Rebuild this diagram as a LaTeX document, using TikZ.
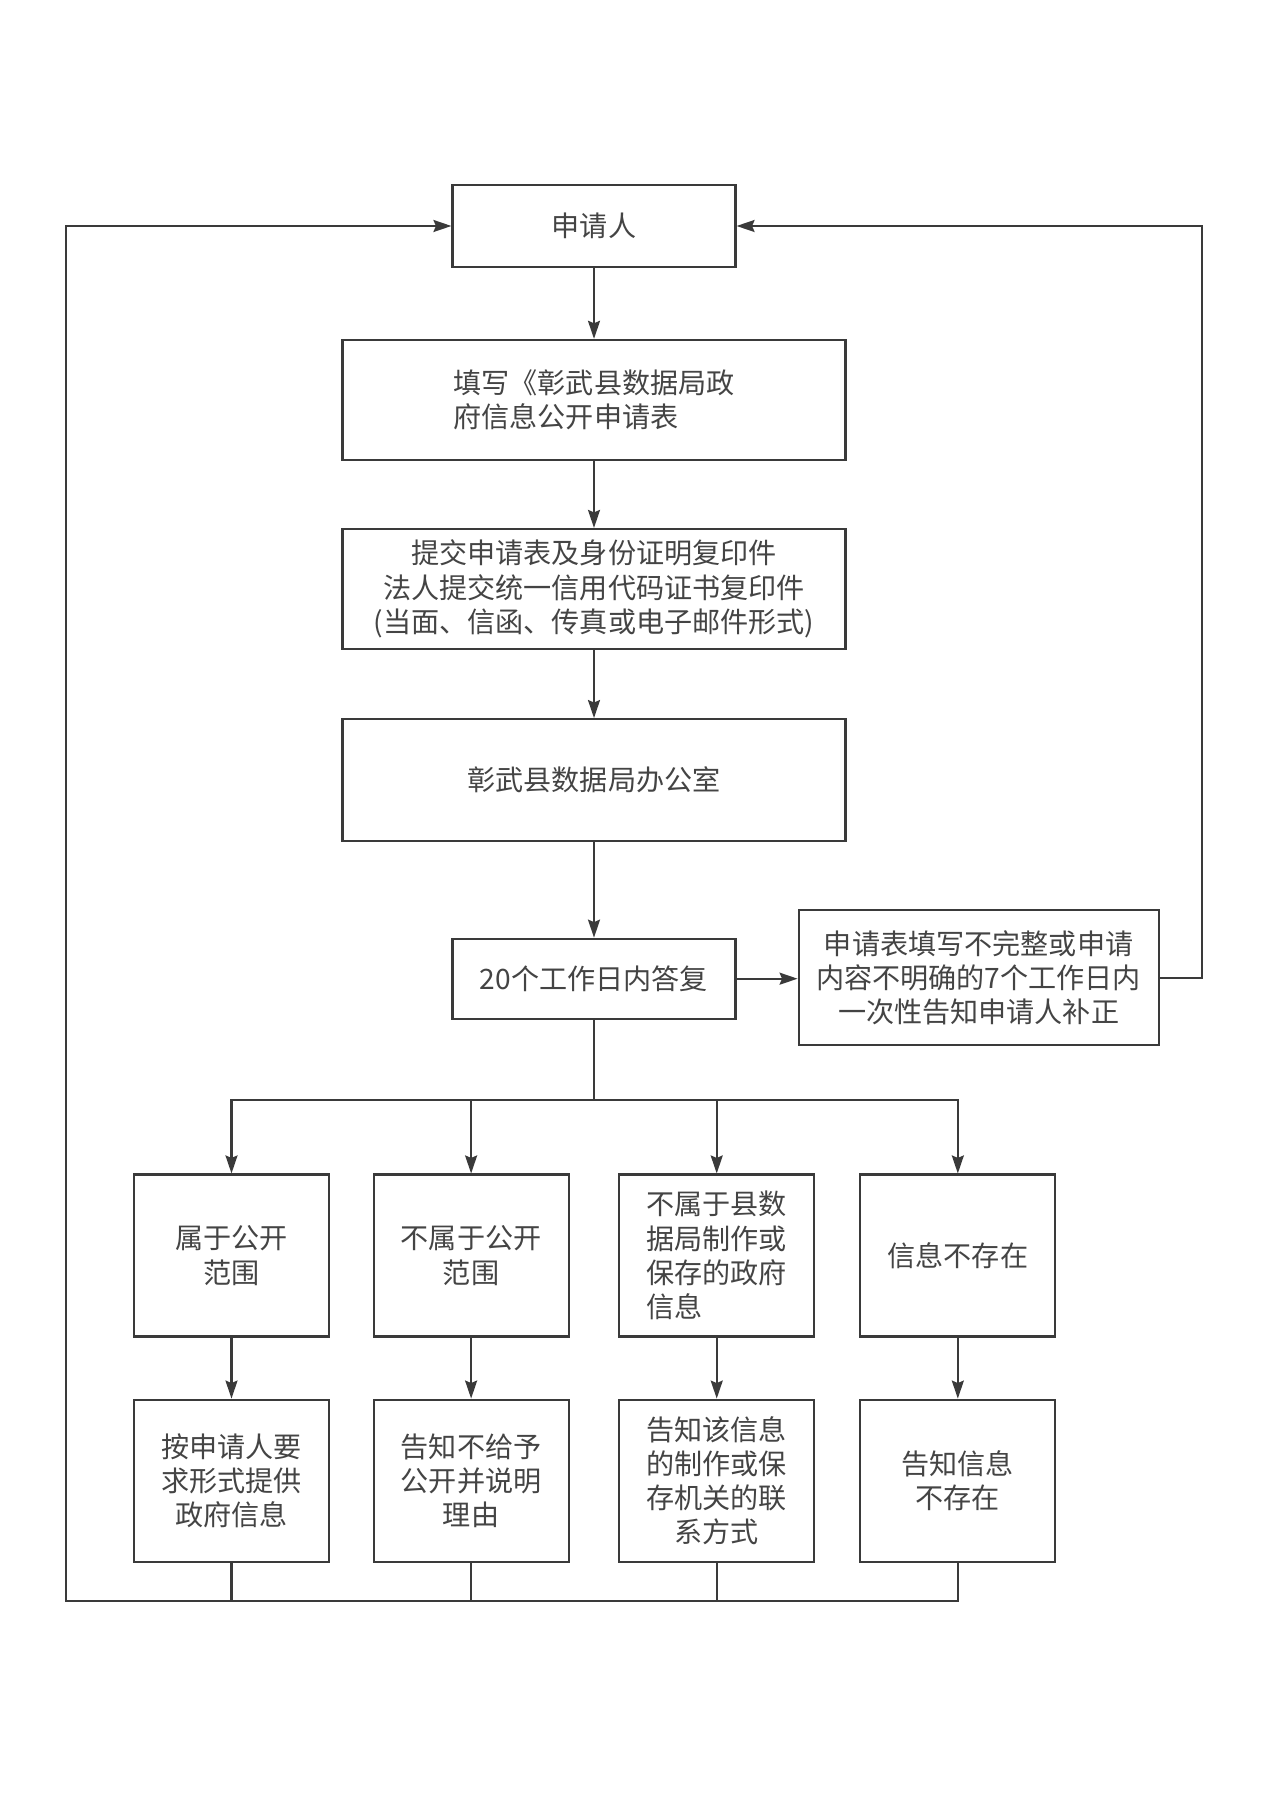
\documentclass[tikz,border=0pt]{standalone}
\usepackage{fontspec}
\newfontfamily\cjk{Noto Sans CJK SC}
\usepackage{tikz}
\usetikzlibrary{arrows.meta,positioning,calc}
\usepackage{xcolor}
\definecolor{linegray}{HTML}{3A3A3A}
\definecolor{textgray}{HTML}{444444}

\begin{document}
\begin{tikzpicture}[
    node distance=1.4cm and 1.0cm,
    box/.style={rectangle, draw=linegray, line width=1.2pt, align=center,
                text=textgray, font=\cjk\fontsize{16}{19.5}\selectfont},
    wide/.style={box, minimum width=10.06cm, minimum height=2.4cm},
    narrow/.style={box, minimum width=5.66cm, minimum height=1.63cm},
    branch/.style={box, minimum width=3.9cm, minimum height=3.24cm},
    arrow/.style={-{Stealth[length=0.36cm,width=0.24cm,inset=0.05cm]}, line width=1.2pt, draw=linegray},
    line/.style={line width=1.2pt, draw=linegray}
]
\useasboundingbox (0,0) rectangle (25.36,-35.86);

\node[narrow] (applicant) at (11.88,-4.52) {申请人};
\node[wide, align=left, below=1.42cm of applicant] (form) {填写《彰武县数据局政\\府信息公开申请表};
\node[wide, below=1.34cm of form]   (submit) {提交申请表及身份证明复印件\\法人提交统一信用代码证书复印件\\(当面、信函、传真或电子邮件形式)};
\node[wide, minimum height=2.44cm, below=1.36cm of submit] (office) {彰武县数据局办公室};
\node[narrow, minimum height=1.6cm, below=1.91cm of office] (reply) {20个工作日内答复};
\node[box, minimum width=7.2cm, minimum height=2.7cm, right=1.22cm of reply, yshift=0.02cm] (notice)
     {申请表填写不完整或申请\\内容不明确的7个工作日内\\一次性告知申请人补正};

% four kinds of answer
\node[branch] (open) at (4.63,-25.11) {属于公开\\范围};
\node[branch, right=0.85cm of open]   (closed)  {不属于公开\\范围};
\node[branch, align=left, right=0.97cm of closed] (other) {不属于县数\\据局制作或\\保存的政府\\信息};
\node[branch, right=0.88cm of other] (missing) {信息不存在};

\node[branch, below=1.22cm of open]    (provide)  {按申请人要\\求形式提供\\政府信息};
\node[branch, below=1.22cm of closed]  (refuse)   {告知不给予\\公开并说明\\理由};
\node[branch, below=1.22cm of other]   (redirect) {告知该信息\\的制作或保\\存机关的联\\系方式};
\node[branch, below=1.22cm of missing] (absent)   {告知信息\\不存在};

\coordinate (back) at (1.32,-32.02);

\draw[arrow] (applicant) -- (form);
\draw[arrow] (form)      -- (submit);
\draw[arrow] (submit)    -- (office);
\draw[arrow] (office)    -- (reply);
\draw[arrow] (reply)     -- (notice.west |- reply);
\draw[arrow] (notice.east) -- ++(0.84,0) |- (applicant.east);

\draw[arrow] (reply.south) -- ++(0,-1.6) -| (open);
\draw[arrow] (reply.south) -- ++(0,-1.6) -| (closed);
\draw[arrow] (reply.south) -- ++(0,-1.6) -| (other);
\draw[arrow] (reply.south) -- ++(0,-1.6) -| (missing);

\draw[arrow] (open)    -- (provide);
\draw[arrow] (closed)  -- (refuse);
\draw[arrow] (other)   -- (redirect);
\draw[arrow] (missing) -- (absent);

\draw[arrow] (absent.south) |- (back) |- (applicant.west);
\draw[line]  (provide.south)  -- (provide.south |- back);
\draw[line]  (refuse.south)   -- (refuse.south |- back);
\draw[line]  (redirect.south) -- (redirect.south |- back);
\end{tikzpicture}
\end{document}
